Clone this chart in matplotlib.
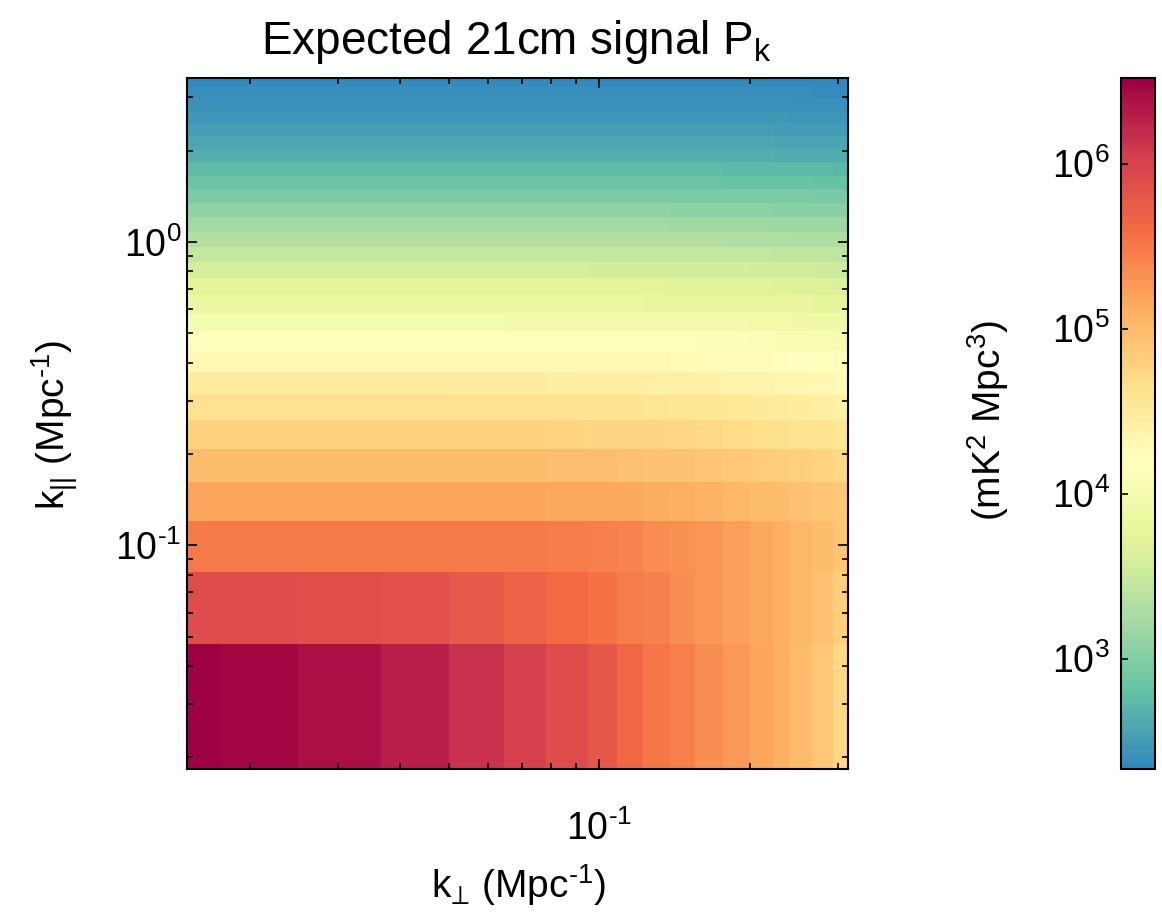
import numpy as np
import matplotlib
matplotlib.use("Agg")
import matplotlib.pyplot as plt
from matplotlib.colors import LogNorm, ListedColormap
from matplotlib.ticker import LogLocator, FuncFormatter, NullFormatter

plt.rcParams["font.family"] = ["Liberation Sans", "DejaVu Sans"]
plt.rcParams["mathtext.fontset"] = "custom"
plt.rcParams["mathtext.rm"] = "Liberation Sans"
plt.rcParams["mathtext.it"] = "Liberation Sans:italic"
plt.rcParams["axes.unicode_minus"] = False

# bin edges in Mpc^-1
k_perp_edges = [0.0150, 0.0175, 0.0250, 0.0366, 0.0501, 0.0645, 0.0782, 0.0951, 0.1083,
                0.1224, 0.1384, 0.1553, 0.1766, 0.2000, 0.2223, 0.2404, 0.2657, 0.2930, 0.3144]
k_par_edges = [0.0183, 0.0471, 0.0818, 0.1203, 0.1622, 0.2074, 0.2592, 0.3133, 0.374,
               0.438, 0.508, 0.585, 0.668, 0.758, 0.856, 0.963, 1.079, 1.205, 1.342,
               1.491, 1.653, 1.830, 2.022, 2.231, 2.459, 2.707, 2.977, 3.271, 3.590]

# log10 P(k_perp, k_par) in mK^2 Mpc^3, one row per k_par bin (lowest first)
log_power = [
    [6.50, 6.47, 6.40, 6.28, 6.14, 6.02, 5.90, 5.79, 5.63, 5.52, 5.45, 5.35, 5.26, 5.19, 5.10, 5.01, 4.89, 4.73],
    [5.90, 5.90, 5.89, 5.88, 5.77, 5.70, 5.61, 5.54, 5.47, 5.43, 5.35, 5.29, 5.22, 5.15, 5.10, 5.03, 4.94, 4.82],
    [5.50, 5.50, 5.50, 5.50, 5.50, 5.49, 5.47, 5.44, 5.41, 5.37, 5.33, 5.28, 5.22, 5.15, 5.10, 5.04, 4.97, 4.90],
    [5.19, 5.19, 5.19, 5.19, 5.19, 5.18, 5.17, 5.16, 5.14, 5.12, 5.10, 5.07, 5.04, 5.00, 4.97, 4.94, 4.91, 4.87],
    [4.98, 4.98, 4.98, 4.97, 4.97, 4.97, 4.96, 4.95, 4.94, 4.93, 4.92, 4.90, 4.88, 4.85, 4.83, 4.80, 4.76, 4.72],
    [4.78, 4.78, 4.78, 4.78, 4.77, 4.77, 4.76, 4.75, 4.75, 4.74, 4.73, 4.71, 4.69, 4.67, 4.65, 4.62, 4.59, 4.55],
    [4.62, 4.62, 4.62, 4.62, 4.61, 4.61, 4.60, 4.60, 4.59, 4.58, 4.57, 4.56, 4.54, 4.52, 4.50, 4.47, 4.44, 4.41],
    [4.46, 4.46, 4.46, 4.46, 4.45, 4.45, 4.44, 4.44, 4.43, 4.42, 4.42, 4.40, 4.39, 4.37, 4.35, 4.33, 4.30, 4.27],
    [4.31, 4.31, 4.31, 4.31, 4.30, 4.30, 4.30, 4.29, 4.29, 4.28, 4.27, 4.26, 4.25, 4.23, 4.22, 4.20, 4.18, 4.15],
    [4.15, 4.15, 4.15, 4.15, 4.15, 4.14, 4.14, 4.14, 4.13, 4.13, 4.12, 4.11, 4.10, 4.09, 4.08, 4.06, 4.04, 4.02],
    [4.00, 4.00, 4.00, 4.00, 4.00, 3.99, 3.99, 3.99, 3.98, 3.98, 3.97, 3.97, 3.96, 3.95, 3.94, 3.92, 3.91, 3.89],
    [3.85, 3.85, 3.85, 3.85, 3.85, 3.85, 3.84, 3.84, 3.84, 3.83, 3.83, 3.82, 3.82, 3.81, 3.80, 3.79, 3.77, 3.76],
    [3.72, 3.72, 3.72, 3.72, 3.72, 3.72, 3.71, 3.71, 3.71, 3.71, 3.70, 3.70, 3.69, 3.69, 3.68, 3.67, 3.66, 3.65],
    [3.60, 3.60, 3.60, 3.60, 3.60, 3.60, 3.60, 3.59, 3.59, 3.59, 3.59, 3.58, 3.58, 3.57, 3.57, 3.56, 3.55, 3.54],
    [3.47, 3.47, 3.47, 3.47, 3.47, 3.47, 3.47, 3.47, 3.46, 3.46, 3.46, 3.45, 3.45, 3.45, 3.44, 3.44, 3.43, 3.42],
    [3.34, 3.34, 3.34, 3.34, 3.34, 3.34, 3.34, 3.34, 3.34, 3.33, 3.33, 3.33, 3.32, 3.32, 3.32, 3.31, 3.31, 3.30],
    [3.20, 3.20, 3.20, 3.20, 3.20, 3.20, 3.20, 3.20, 3.20, 3.20, 3.19, 3.19, 3.19, 3.19, 3.18, 3.18, 3.17, 3.17],
    [3.07, 3.07, 3.07, 3.07, 3.07, 3.07, 3.07, 3.07, 3.07, 3.07, 3.06, 3.06, 3.06, 3.06, 3.05, 3.05, 3.05, 3.04],
    [2.95, 2.95, 2.95, 2.95, 2.95, 2.95, 2.95, 2.95, 2.95, 2.95, 2.95, 2.95, 2.94, 2.94, 2.94, 2.94, 2.93, 2.93],
    [2.84, 2.84, 2.84, 2.84, 2.84, 2.84, 2.84, 2.84, 2.84, 2.84, 2.84, 2.84, 2.83, 2.83, 2.83, 2.83, 2.82, 2.82],
    [2.74, 2.74, 2.74, 2.74, 2.74, 2.74, 2.74, 2.74, 2.74, 2.74, 2.74, 2.74, 2.73, 2.73, 2.73, 2.73, 2.73, 2.72],
    [2.65, 2.65, 2.65, 2.65, 2.65, 2.65, 2.65, 2.65, 2.65, 2.65, 2.65, 2.65, 2.65, 2.65, 2.64, 2.64, 2.64, 2.64],
    [2.58, 2.58, 2.58, 2.58, 2.58, 2.58, 2.58, 2.58, 2.58, 2.58, 2.58, 2.58, 2.58, 2.58, 2.57, 2.57, 2.57, 2.57],
    [2.52, 2.52, 2.52, 2.52, 2.52, 2.52, 2.52, 2.52, 2.52, 2.52, 2.52, 2.52, 2.52, 2.52, 2.51, 2.51, 2.51, 2.51],
    [2.47, 2.47, 2.47, 2.47, 2.47, 2.47, 2.47, 2.47, 2.47, 2.47, 2.47, 2.47, 2.47, 2.47, 2.47, 2.46, 2.46, 2.46],
    [2.42, 2.42, 2.42, 2.42, 2.42, 2.42, 2.42, 2.42, 2.42, 2.42, 2.42, 2.42, 2.42, 2.42, 2.42, 2.41, 2.41, 2.41],
    [2.38, 2.38, 2.38, 2.38, 2.38, 2.38, 2.38, 2.38, 2.38, 2.38, 2.38, 2.38, 2.38, 2.38, 2.38, 2.38, 2.37, 2.37],
    [2.35, 2.35, 2.35, 2.35, 2.35, 2.35, 2.35, 2.35, 2.35, 2.35, 2.35, 2.35, 2.35, 2.35, 2.35, 2.35, 2.34, 2.34],
]

k_perp_range = (0.0150, 0.3144)
k_par_range = (0.0183, 3.476)
color_range = (10 ** 2.33, 10 ** 6.52)

# Spectral without the purple end
cmap = ListedColormap(plt.cm.Spectral_r(np.linspace(0.1, 1.0, 256)))


def power_of_ten(val, pos):
    e = int(round(np.log10(val)))
    if e < 0:
        return r"$10^{\text{-}%d}$" % (-e)
    return r"$10^{%d}$" % e


fig = plt.figure(figsize=(11.62, 9.13), dpi=100)
ax = fig.add_axes([0.161, 0.1577, 0.569, 0.757])
cax = fig.add_axes([0.9647, 0.1577, 0.0293, 0.757])

mesh = ax.pcolormesh(k_perp_edges, k_par_edges, 10 ** np.array(log_power),
                     cmap=cmap, norm=LogNorm(*color_range), shading="flat")
ax.set_xscale("log")
ax.set_yscale("log")
ax.set_xlim(*k_perp_range)
ax.set_ylim(*k_par_range)

for axis in (ax.xaxis, ax.yaxis):
    axis.set_major_locator(LogLocator(base=10))
    axis.set_major_formatter(FuncFormatter(power_of_ten))
    axis.set_minor_formatter(NullFormatter())

ax.tick_params(which="both", direction="in", top=True, right=True, width=1.2, labelsize=27)
ax.tick_params(which="major", length=7.5)
ax.tick_params(which="minor", length=4.5)
ax.tick_params(axis="x", pad=30)
ax.tick_params(axis="y", pad=4)
for sp in ax.spines.values():
    sp.set_linewidth(1.5)

cbar = fig.colorbar(mesh, cax=cax)
cbar.ax.minorticks_off()
cbar.ax.yaxis.set_major_formatter(FuncFormatter(power_of_ten))
cbar.ax.yaxis.set_ticks_position("left")
cbar.ax.yaxis.set_label_position("left")
cbar.ax.tick_params(direction="in", length=5, width=1.2, labelsize=27, pad=8)
cbar.outline.set_linewidth(1.5)

fig.text(0.444, 0.954, r"Expected 21cm signal P$_{\mathrm{k}}$", ha="center", va="center", fontsize=33)
fig.text(0.4458, 0.031, r"k$_{⊥}$ (Mpc$^{\text{-}1}$)", ha="center", va="center", fontsize=28)
fig.text(0.047, 0.535, r"k$_{||}$ (Mpc$^{\text{-}1}$)", ha="center", va="center", rotation=90, fontsize=28)
fig.text(0.850, 0.54, r"(mK$^{2}$ Mpc$^{3}$)", ha="center", va="center", rotation=90, fontsize=28)

fig.savefig("out.png", dpi=100)
